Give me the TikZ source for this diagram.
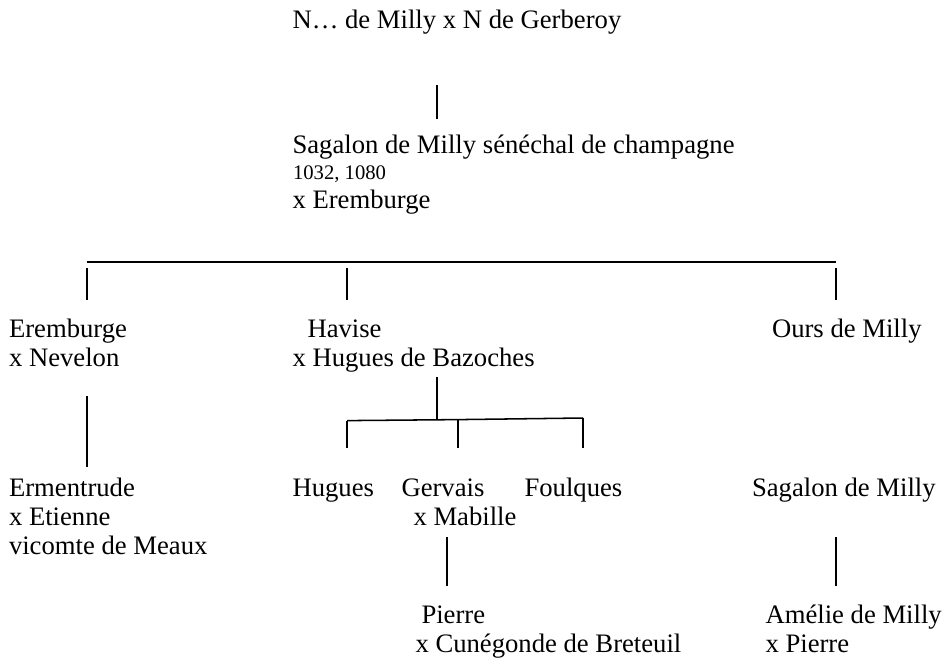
\documentclass[tikz,border=0pt]{standalone}
\usepackage{fontspec}
\setmainfont{Liberation Serif}
\begin{document}
\begin{tikzpicture}[x=0.75pt,y=-0.75pt,
  txt/.style={anchor=base west,inner sep=0pt,outer sep=0pt,font=\fontsize{20}{22}\selectfont},
  smalltxt/.style={txt,font=\fontsize{15.5}{17}\selectfont},
  link/.style={line width=0.9pt},
  bar/.style={line width=1.15pt}]
\useasboundingbox (0,0) rectangle (944,658);
% generation 0
\node[txt] (top) at (292.5,28.3) {N… de Milly x N de Gerberoy};
% generation 1
\node[txt] (sag) at (292.5,153) {Sagalon de Milly sénéchal de champagne};
\node[smalltxt] (dates) at (293,179.5) {1032, 1080};
\node[txt] (sagx) at (292.5,208) {x Eremburge};
% generation 2
\node[txt] (erem) at (9,337) {Eremburge};
\node[txt] (eremx) at (9,366) {x Nevelon};
\node[txt] (hav) at (307.5,337) {Havise};
\node[txt] (havx) at (292.5,366) {x Hugues de Bazoches};
\node[txt] (ours) at (772,337) {Ours de Milly};
% generation 3
\node[txt] (ermen) at (9,496) {Ermentrude};
\node[txt] (ermenx) at (9,525) {x Etienne};
\node[txt] (ermeny) at (9,554) {vicomte de Meaux};
\node[txt] (hug) at (292.5,496) {Hugues};
\node[txt] (gerv) at (401.5,496) {Gervais};
\node[txt] (gervx) at (413.5,525) {x Mabille};
\node[txt] (foul) at (524.5,496) {Foulques};
\node[txt] (sag2) at (752,496) {Sagalon de Milly};
% generation 4
\node[txt] (pier) at (421.5,623) {Pierre};
\node[txt] (pierx) at (415.5,652) {x Cunégonde de Breteuil};
\node[txt] (amel) at (765.5,623) {Amélie de Milly};
\node[txt] (amelx) at (765.5,652) {x Pierre};
% junction points
\coordinate (t1) at (437,85);
\coordinate (t2) at (437,119);
\coordinate (bl) at (87,262);
\coordinate (br) at (836,262);
\coordinate (e1) at (87,268);
\coordinate (e2) at (87,300);
\coordinate (h1) at (347,268);
\coordinate (h2) at (347,300);
\coordinate (o1) at (836,268);
\coordinate (o2) at (836,300);
\coordinate (ed1) at (87,396);
\coordinate (ed2) at (87,467);
\coordinate (hd1) at (437,377);
\coordinate (hd2) at (437,419.3);
\coordinate (sl) at (347,420.6);
\coordinate (sm) at (458,419.6);
\coordinate (sr) at (583,418);
\coordinate (hg) at (347,448);
\coordinate (gg) at (458,448);
\coordinate (fg) at (583,448);
\coordinate (gd1) at (447,537);
\coordinate (gd2) at (447,586);
\coordinate (sd1) at (836,537);
\coordinate (sd2) at (836,586);
% connectors
\draw[link] (t1) -- (t2);
\draw[bar] (bl) -- (br);
\draw[link] (e1) -- (e2);
\draw[link] (h1) -- (h2);
\draw[link] (o1) -- (o2);
\draw[link] (ed1) -- (ed2);
\draw[link] (hd1) -- (hd2);
\draw[bar] (sl) -- (sm) -- (sr);
\draw[link] (sl) -- (hg);
\draw[link] (sm) -- (gg);
\draw[link] (sr) -- (fg);
\draw[link] (gd1) -- (gd2);
\draw[link] (sd1) -- (sd2);
\end{tikzpicture}
\end{document}
